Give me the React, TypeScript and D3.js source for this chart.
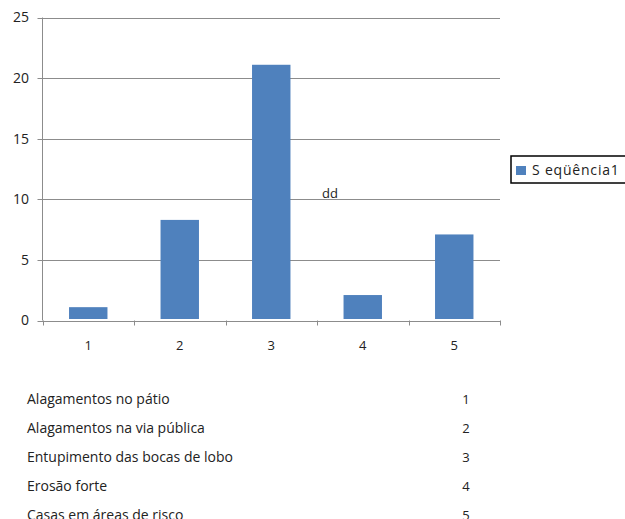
import React, { useEffect, useRef } from "react";
import * as d3 from "d3";

const categories = ["1", "2", "3", "4", "5"];
const values = [1.1, 8.3, 21.1, 2.1, 7.1];
const yTicks = [0, 5, 10, 15, 20, 25];
const seriesName = "S eqüência1";
const annotation = "dd";
const tableLabels = [
  "Alagamentos no pátio",
  "Alagamentos na via pública",
  "Entupimento das bocas de lobo",
  "Erosão forte",
  "Casas em áreas de risco",
];
const tableCodes = ["1", "2", "3", "4", "5"];

const W = 625;
const H = 519;
const FONT = "'Open Sans', sans-serif";

export default function App() {
  const ref = useRef<SVGSVGElement>(null);

  useEffect(() => {
    const svg = d3.select(ref.current);
    svg.selectAll("*").remove();

    const left = 42.5, right = 500, top = 17.5, bottom = 320.5;
    const x = d3.scaleBand().domain(categories).range([left, right]).paddingInner(0.58).paddingOuter(0.29);
    const y = d3.scaleLinear().domain([0, 25]).range([bottom, top]);
    const xb = d3.scaleBand().domain(categories).range([left, right]);

    // gridlines
    svg.append("g").selectAll("line").data(yTicks).join("line")
      .attr("x1", left - 5).attr("x2", right)
      .attr("y1", (d) => Math.round(y(d)) + 0.5).attr("y2", (d) => Math.round(y(d)) + 0.5)
      .attr("stroke", "#8c8c8c").attr("stroke-width", 1);

    // y axis line
    svg.append("line").attr("x1", left).attr("x2", left).attr("y1", top).attr("y2", bottom)
      .attr("stroke", "#8c8c8c").attr("stroke-width", 1);

    // x tick marks
    const bounds = categories.map((c) => xb(c) as number).concat([right]);
    svg.append("g").selectAll("line").data(bounds).join("line")
      .attr("x1", (d) => Math.round(d) + 0.5).attr("x2", (d) => Math.round(d) + 0.5)
      .attr("y1", bottom).attr("y2", bottom + 5)
      .attr("stroke", "#8c8c8c").attr("stroke-width", 1);

    // y labels
    svg.append("g").selectAll("text").data(yTicks).join("text")
      .attr("x", 29).attr("y", (d) => y(d)).attr("dy", "0.35em")
      .attr("text-anchor", "end").attr("font-size", 14).attr("font-family", FONT)
      .attr("fill", "#222").text((d) => String(d));

    // bars
    svg.append("g").selectAll("rect").data(values).join("rect")
      .attr("x", (_, i) => x(categories[i]) as number)
      .attr("width", x.bandwidth())
      .attr("y", (d) => y(d))
      .attr("height", (d) => y(0) - 1.5 - y(d))
      .attr("fill", "#4f81bd");

    // x labels
    svg.append("g").selectAll("text").data(categories).join("text")
      .attr("x", (d) => (xb(d) as number) + xb.bandwidth() / 2)
      .attr("y", 345).attr("dy", "0.35em")
      .attr("text-anchor", "middle").attr("font-size", 13).attr("font-family", FONT)
      .attr("fill", "#222").text((d) => d);

    // annotation
    svg.append("text").attr("x", 322).attr("y", 193).attr("dy", "0.35em")
      .attr("font-size", 13).attr("font-family", FONT).attr("fill", "#222").text(annotation);

    // legend
    svg.append("rect").attr("x", 511).attr("y", 156).attr("width", 124).attr("height", 27)
      .attr("fill", "#fff").attr("stroke", "#000").attr("stroke-width", 1.5);
    svg.append("rect").attr("x", 516).attr("y", 166).attr("width", 10).attr("height", 9)
      .attr("fill", "#4f81bd");
    svg.append("text").attr("x", 532).attr("y", 170.5).attr("dy", "0.35em")
      .attr("font-size", 14).attr("letter-spacing", 0.8).attr("font-family", FONT)
      .attr("fill", "#222").text(seriesName);

    // table
    const rowY = (i: number) => 399 + i * 29;
    svg.append("g").selectAll("text").data(tableLabels).join("text")
      .attr("x", 27).attr("y", (_, i) => rowY(i)).attr("dy", "0.35em")
      .attr("font-size", 14).attr("font-family", FONT).attr("fill", "#222").text((d) => d);
    svg.append("g").selectAll("text").data(tableCodes).join("text")
      .attr("x", 466).attr("y", (_, i) => rowY(i)).attr("dy", "0.35em")
      .attr("text-anchor", "middle")
      .attr("font-size", 13).attr("font-family", FONT).attr("fill", "#222").text((d) => d);
  }, []);

  return (
    <svg ref={ref} width={W} height={H}
      style={{ position: "absolute", left: 0, top: 0, background: "#fff" }} />
  );
}
